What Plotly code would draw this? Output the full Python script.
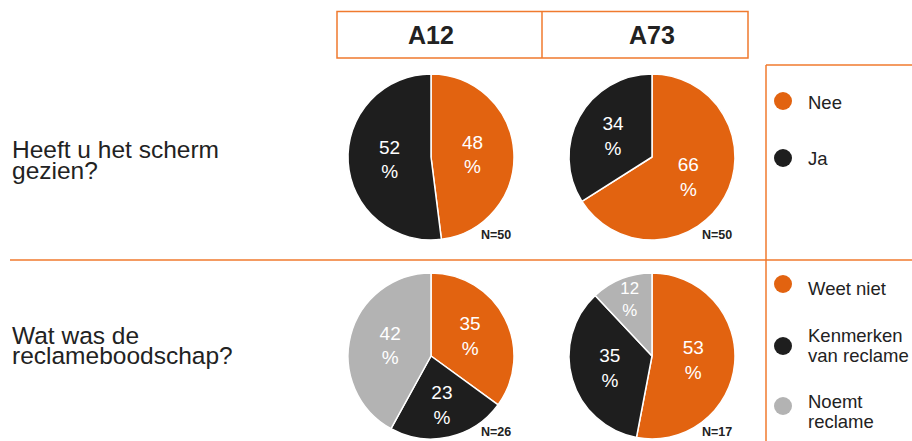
import plotly.graph_objects as go

W, H = 912, 441

# Survey results per screen location (percent)
columns = ["A12", "A73"]
questions = ["Heeft u het scherm\ngezien?", "Wat was de\nreclameboodschap?"]

seen_labels = ["Nee", "Ja"]
seen_a12 = [48, 52]
seen_a73 = [66, 34]
seen_n = [50, 50]

msg_labels = ["Weet niet", "Kenmerken\nvan reclame", "Noemt\nreclame"]
msg_a12 = [35, 23, 42]
msg_a73 = [53, 35, 12]
msg_n = [26, 17]

ORANGE = "#E26310"
BLACK = "#1E1E1E"
GRAY = "#B3B3B3"
LINE = "#F07A2E"
TEXT = "#222222"
FONT = "Arial, Liberation Sans, sans-serif"

seen_colors = [ORANGE, BLACK]
msg_colors = [ORANGE, BLACK, GRAY]


def px(x):
    return x / W


def py(y):
    return 1 - y / H


def pie_domain(cx, cy, r):
    return dict(x=[px(cx - r), px(cx + r)], y=[py(cy + r), py(cy - r)])


centers_x = [431, 652]
centers_y = [157, 356]
R = 83

fig = go.Figure()

rows = [
    (seen_labels, [seen_a12, seen_a73], seen_colors),
    (msg_labels, [msg_a12, msg_a73], msg_colors),
]

for ri, (labels, series, colors) in enumerate(rows):
    for ci, vals in enumerate(series):
        fig.add_trace(go.Pie(
            labels=[l.replace("\n", " ") for l in labels],
            values=vals,
            text=[f"{v}<br>%" for v in vals],
            textinfo="text",
            textposition="inside",
            insidetextorientation="horizontal",
            textfont=dict(family=FONT, size=19, color="white"),
            marker=dict(colors=colors, line=dict(color="white", width=1.5)),
            sort=False,
            direction="clockwise",
            rotation=0,
            showlegend=False,
            hoverinfo="label+value",
            domain=pie_domain(centers_x[ci], centers_y[ri], R),
        ))

shapes = []
annotations = []


def add_text(x, y, text, size, xanchor="center", yanchor="middle", bold=False):
    annotations.append(dict(
        x=px(x), y=py(y), xref="paper", yref="paper",
        text=f"<b>{text}</b>" if bold else text,
        showarrow=False, xanchor=xanchor, yanchor=yanchor,
        font=dict(family=FONT, size=size, color=TEXT)))


def add_lines(x, y, text, size, spacing):
    for k, line in enumerate(text.split("\n")):
        add_text(x, y + k * spacing, line, size, xanchor="left")


# Column header boxes
shapes.append(dict(type="rect", xref="paper", yref="paper",
                   x0=px(337), x1=px(748), y0=py(58), y1=py(11.5),
                   line=dict(color=LINE, width=1.5)))
shapes.append(dict(type="line", xref="paper", yref="paper",
                   x0=px(542), x1=px(542), y0=py(58), y1=py(11.5),
                   line=dict(color=LINE, width=1.5)))
for cx, name in zip(centers_x, columns):
    add_text(cx, 35, name, 25, bold=True)

# Row separator and legend frame
shapes.append(dict(type="line", xref="paper", yref="paper",
                   x0=px(10), x1=1, y0=py(260), y1=py(260),
                   line=dict(color=LINE, width=1.5)))
shapes.append(dict(type="line", xref="paper", yref="paper",
                   x0=px(766), x1=px(766), y0=py(65), y1=0,
                   line=dict(color=LINE, width=1.5)))
shapes.append(dict(type="line", xref="paper", yref="paper",
                   x0=px(766), x1=1, y0=py(65), y1=py(65),
                   line=dict(color=LINE, width=1.5)))

# Question labels
for qy, q in zip([150, 335], questions):
    add_lines(10, qy, q, 24.5, 20)

# Sample sizes, anchored by their bottom edge so they stay inside the page
for ri, ns in enumerate([seen_n, msg_n]):
    for ci, n in enumerate(ns):
        add_text(centers_x[ci] + 65, min(centers_y[ri] + 87, H - 0.5),
                 f"N={n}", 12.5, yanchor="bottom", bold=True)

# Legend entries: (label, colour, marker y, first text line y)
legend_items = [
    (seen_labels[0], seen_colors[0], 101, 103),
    (seen_labels[1], seen_colors[1], 158, 159),
    (msg_labels[0], msg_colors[0], 284, 288),
    (msg_labels[1], msg_colors[1], 346, 335),
    (msg_labels[2], msg_colors[2], 406, 401),
]
for label, color, my, ty in legend_items:
    shapes.append(dict(type="circle", xref="paper", yref="paper",
                       x0=px(774), x1=px(792), y0=py(my + 9), y1=py(my - 9),
                       fillcolor=color, line=dict(width=0)))
    add_lines(806, ty, label, 18.5, 20)

fig.update_layout(
    width=W, height=H,
    margin=dict(l=0, r=0, t=0, b=0),
    paper_bgcolor="white",
    plot_bgcolor="white",
    shapes=shapes,
    annotations=annotations,
)

fig.write_html("out.html")
